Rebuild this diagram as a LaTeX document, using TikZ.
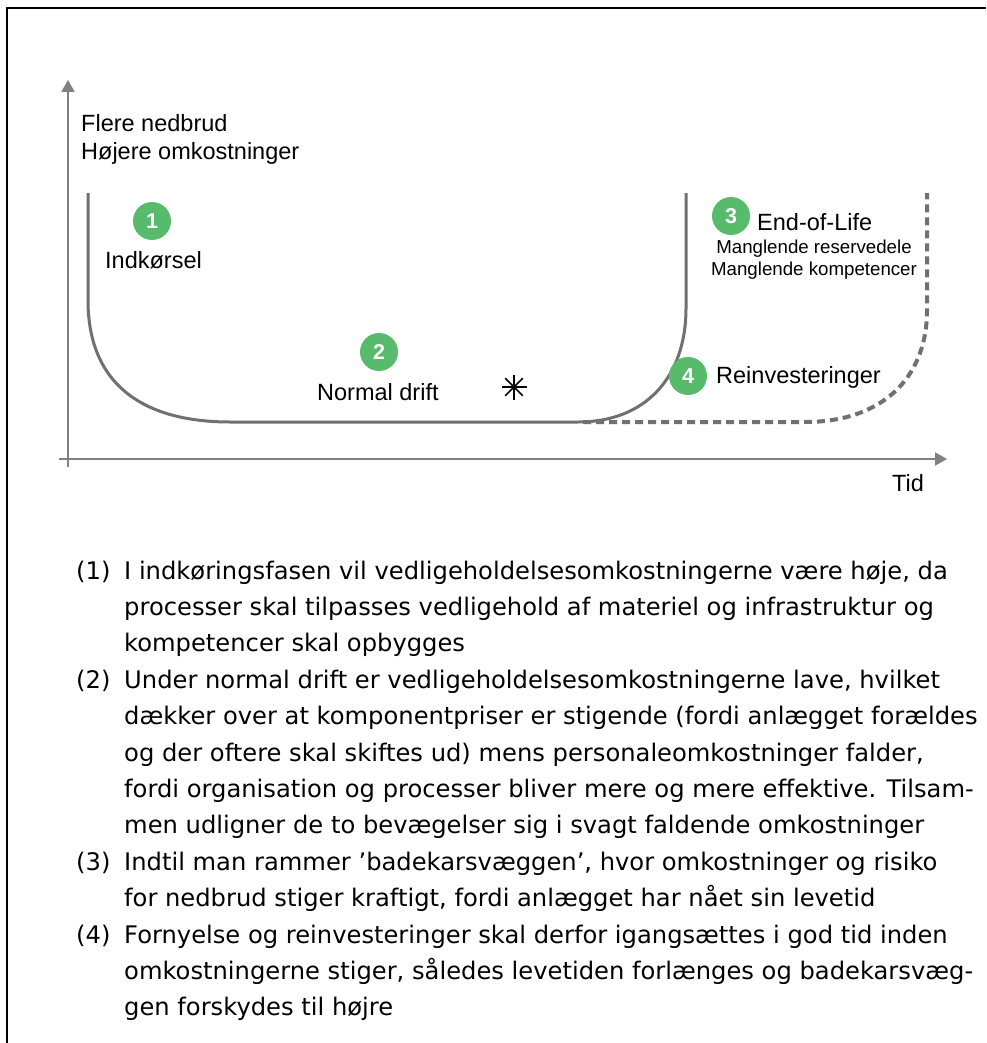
\documentclass[tikz,border=0pt]{standalone}
\usepackage{fontspec}
\setmainfont{Liberation Sans}
\newfontfamily\verd{DejaVu Sans}
\usetikzlibrary{arrows.meta,calc}
\definecolor{axisgray}{RGB}{128,128,128}
\definecolor{curvegray}{RGB}{112,112,112}
\definecolor{numgreen}{RGB}{88,187,108}
\begin{document}
\begin{tikzpicture}[x=1pt,y=-1pt,
  lbl/.style={inner sep=0pt,anchor=base west,font=\fontsize{23.5}{28}\selectfont},
  sublbl/.style={inner sep=0pt,anchor=base,font=\fontsize{18.7}{22}\selectfont},
  numc/.style={circle,fill=numgreen,minimum size=38pt,inner sep=0pt,text=white,font=\fontsize{21.5}{21.5}\selectfont\bfseries},
  body/.style={inner sep=0pt,anchor=base west,font=\verd\fontsize{24.2}{29}\selectfont},
  axisline/.style={draw=axisgray,line width=2pt},
  tip/.style={-{Triangle[width=13pt,length=12pt]}},
  curve/.style={draw=curvegray,line width=3pt},
  dashcurve/.style={draw=curvegray,line width=4pt,dash pattern=on 8pt off 5pt}
]
\useasboundingbox (0,0) rectangle (986,1043);
\fill[white] (0,0) rectangle (986,1043);
% frame
\coordinate (fbl) at (7,1043);
\coordinate (ftl) at (7,8);
\coordinate (ftr) at (986,8);
\draw[line width=2.2pt] (fbl) -- (ftl) -- (ftr);
% axes
\coordinate (yb) at (68,467);
\coordinate (yt) at (68,80);
\coordinate (xl) at (59,459);
\coordinate (xr) at (947,459);
\draw[axisline,tip] (yb) -- (yt);
\draw[axisline,tip] (xl) -- (xr);
% curves
\draw[curve] (88,193) -- (88,300) .. controls (88,390) and (150,422) .. (230,422) -- (578,422) .. controls (645,422) and (686,378) .. (686,308) -- (686,193);
\draw[dashcurve] (583,422) -- (805,422) .. controls (880,422) and (927,380) .. (927,310) -- (927,193);
% numbered circles
\node[numc] (c1) at (152,221) {1};
\node[numc] (c2) at (379,352) {2};
\node[numc] (c3) at (731,216) {3};
\node[numc] (c4) at (688,376) {4};
% labels
\node[lbl] (yl1) at (81,132) {Flere nedbrud};
\node[lbl] (yl2) at (81,160) {Højere omkostninger};
\node[lbl] (l1) at (105,268) {Indkørsel};
\node[lbl] (l2) at (317,400) {Normal drift};
\node[lbl] (l3) at (757,230) {End-of-Life};
\node[sublbl] (l3a) at (814,253) {Manglende reservedele};
\node[sublbl] (l3b) at (814,275) {Manglende kompetencer};
\node[lbl] (l4) at (716,383) {Reinvesteringer};
\node[lbl] (tid) at (892,491) {Tid};
% asterisk
\coordinate (ast) at (514,387);
\foreach \a in {0,45,90,135}
  \draw[line width=1.5pt] ($(ast)+(\a:12.5)$) -- ($(ast)+(\a+180:12.5)$);
\fill (ast) circle (2pt);
% body text
\node[body] (n1) at (76,579) {(1)};
\node[body] (t1) at (124,579) {I indkøringsfasen vil vedligeholdelsesomkostningerne være høje, da};
\node[body] (t2) at (124,615.4) {processer skal tilpasses vedligehold af materiel og infrastruktur og};
\node[body] (t3) at (124,651.8) {kompetencer skal opbygges};
\node[body] (n2) at (76,688.2) {(2)};
\node[body] (t4) at (124,688.2) {Under normal drift er vedligeholdelsesomkostningerne lave, hvilket};
\node[body] (t5) at (124,724.6) {dækker over at komponentpriser er stigende (fordi anlægget forældes};
\node[body] (t6) at (124,761) {og der oftere skal skiftes ud) mens personaleomkostninger falder,};
\node[body] (t7) at (124,797.4) {fordi organisation og processer bliver mere og mere effektive. Tilsam-};
\node[body] (t8) at (124,833.8) {men udligner de to bevægelser sig i svagt faldende omkostninger};
\node[body] (n3) at (76,870.2) {(3)};
\node[body] (t9) at (124,870.2) {Indtil man rammer ’badekarsvæggen’, hvor omkostninger og risiko};
\node[body] (t10) at (124,906.6) {for nedbrud stiger kraftigt, fordi anlægget har nået sin levetid};
\node[body] (n4) at (76,943) {(4)};
\node[body] (t11) at (124,943) {Fornyelse og reinvesteringer skal derfor igangsættes i god tid inden};
\node[body] (t12) at (124,979.4) {omkostningerne stiger, således levetiden forlænges og badekarsvæg-};
\node[body] (t13) at (124,1015.8) {gen forskydes til højre};
\end{tikzpicture}
\end{document}
